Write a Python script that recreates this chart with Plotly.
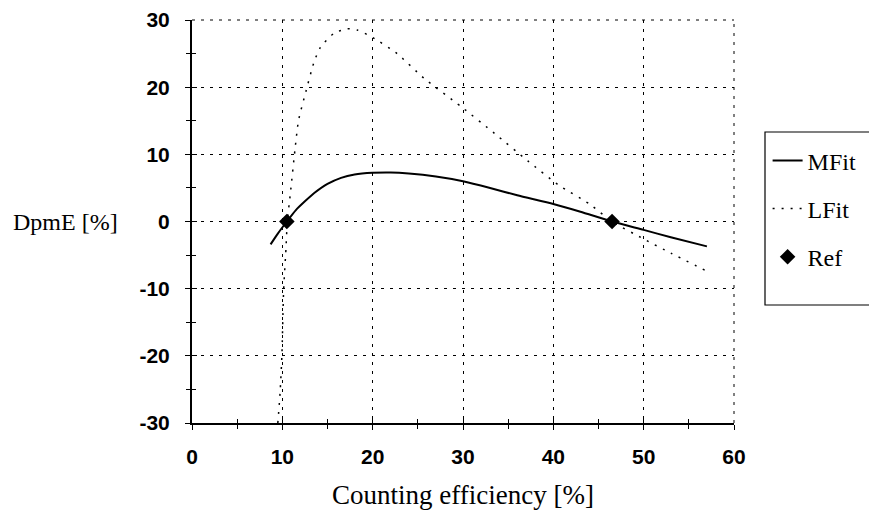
import plotly.graph_objects as go

# ---- data ----
mfit_x = [8.7, 9.5, 10.5, 11.5, 12.5, 13.5, 15, 16.5, 18, 20, 22, 24, 27, 30, 33, 36, 40, 43, 46.5, 50, 53, 57]
mfit_y = [-3.4, -1.8, 0, 1.7, 3.0, 4.2, 5.6, 6.5, 7.0, 7.25, 7.3, 7.15, 6.7, 6.0, 5.0, 3.9, 2.6, 1.45, 0, -1.25, -2.35, -3.7]

lfit_x = [9.5, 9.75, 9.95, 10.15, 10.4, 10.55, 10.9, 11.4, 11.8, 12.6, 13.5, 14.2, 15.7, 17.2, 18.3, 20.0, 22.7, 25.7, 29.8, 33.5, 37.2, 40.5, 44.0, 46.5, 50, 53, 57]
lfit_y = [-30, -25.5, -20, -10, -4.1, 0, 4.3, 10.7, 15.1, 19.3, 23.7, 25.9, 28.0, 28.7, 28.5, 27.4, 25.0, 21.3, 17.1, 13.1, 9.0, 5.5, 2.6, 0, -2.6, -4.7, -7.4]

ref_x = [10.5, 46.5]
ref_y = [0, 0]

x_ticks = [0, 10, 20, 30, 40, 50, 60]
y_ticks = [-30, -20, -10, 0, 10, 20, 30]

SANS = "Liberation Sans, Arial, sans-serif"
SERIF = "Liberation Serif, Times New Roman, serif"
GRID_DASH = "3px,6px"

# plot area in screen pixels (page body adds an 8px offset)
PX0, PX1, PY0, PY1 = 192, 734, 20, 423
PW, PH = PX1 - PX0, PY1 - PY0

fig = go.Figure()
fig.add_trace(go.Scatter(x=mfit_x, y=mfit_y, mode="lines", name="MFit",
                         line=dict(color="black", width=2, shape="spline", smoothing=0.6),
                         legendgroup="a"))
fig.add_trace(go.Scatter(x=lfit_x, y=lfit_y, mode="lines", name="LFit",
                         line=dict(color="black", width=1.5, dash="2px,7px", shape="spline", smoothing=0.6),
                         legendgroup="b"))
fig.add_trace(go.Scatter(x=ref_x, y=ref_y, mode="markers", name="Ref",
                         marker=dict(symbol="diamond", size=12, color="black"),
                         legendgroup="c"))
# dummy trace for the overlay axes (crossing ticks)
fig.add_trace(go.Scatter(x=[None], y=[None], xaxis="x2", yaxis="y2", showlegend=False, hoverinfo="skip"))

grid_common = dict(showgrid=True, gridcolor="black", gridwidth=1, griddash=GRID_DASH,
                   zeroline=False, automargin=False, ticklabeloverflow="allow")

fig.update_layout(
    width=877, height=515,
    margin=dict(l=PX0 - 8, r=877 - PW - (PX0 - 8), t=PY0 - 8, b=515 - PH - (PY0 - 8)),
    paper_bgcolor="white", plot_bgcolor="white",
    showlegend=True,
    legend=dict(x=1.062, y=(PY1 - 138.3) / PH, xanchor="left", yanchor="top",
                borderwidth=0, bgcolor="rgba(0,0,0,0)",
                font=dict(family=SERIF, size=24, color="black"),
                tracegroupgap=14, itemwidth=30),
    xaxis=dict(range=[0, 60], tickvals=x_ticks, ticktext=[str(v) for v in x_ticks],
               showline=True, linecolor="black", linewidth=1.5,
               ticks="outside", ticklen=5, tickwidth=1, tickcolor="black",
               minor=dict(dtick=5, tick0=0, ticks="outside", ticklen=4, tickcolor="black", showgrid=False),
               tickfont=dict(family=SANS, size=21, color="black", weight="bold"),
               ticklabelstandoff=9,
               title=dict(text="Counting efficiency [%]", font=dict(family=SERIF, size=27, color="black"), standoff=18),
               **grid_common),
    yaxis=dict(range=[-30, 30], tickvals=y_ticks, ticktext=[str(v) for v in y_ticks],
               showline=True, linecolor="black", linewidth=2,
               ticks="outside", ticklen=5, tickwidth=1, tickcolor="black",
               minor=dict(dtick=5, tick0=0, ticks="outside", ticklen=4, tickcolor="black", showgrid=False),
               tickfont=dict(family=SANS, size=21, color="black", weight="bold"),
               ticklabelstandoff=11,
               **grid_common),
    xaxis2=dict(range=[0, 60], overlaying="x", anchor="y2", side="bottom", automargin=False,
                tickvals=x_ticks, showticklabels=False, showgrid=False, zeroline=False,
                ticks="inside", ticklen=5, tickcolor="black",
                minor=dict(dtick=5, tick0=0, ticks="inside", ticklen=4, tickcolor="black")),
    yaxis2=dict(range=[-30, 30], overlaying="y", anchor="x2", side="left", automargin=False,
                tickvals=y_ticks, showticklabels=False, showgrid=False, zeroline=False,
                ticks="inside", ticklen=5, tickcolor="black",
                minor=dict(dtick=5, tick0=0, ticks="inside", ticklen=4, tickcolor="black")),
)

# gridlines at the range edges (plotly drops those), top and right
fig.add_shape(type="line", xref="x domain", yref="y domain", x0=0, x1=1, y0=1, y1=1,
              line=dict(color="black", width=1, dash=GRID_DASH))
fig.add_shape(type="line", xref="x domain", yref="y domain", x0=1, x1=1, y0=0, y1=1,
              line=dict(color="black", width=1, dash=GRID_DASH))

# legend frame
fig.add_shape(type="rect", xref="paper", yref="paper",
              x0=(765 - PX0) / PW, x1=(871 - PX0) / PW,
              y0=(PY1 - 305) / PH, y1=(PY1 - 132) / PH,
              line=dict(color="black", width=1.2), fillcolor="rgba(0,0,0,0)", layer="above")

fig.add_annotation(text="DpmE [%]", xref="paper", yref="y", x=-0.133, y=0,
                   xanchor="right", yanchor="middle", showarrow=False,
                   font=dict(family=SERIF, size=24, color="black"))

fig.write_html("out.html")
